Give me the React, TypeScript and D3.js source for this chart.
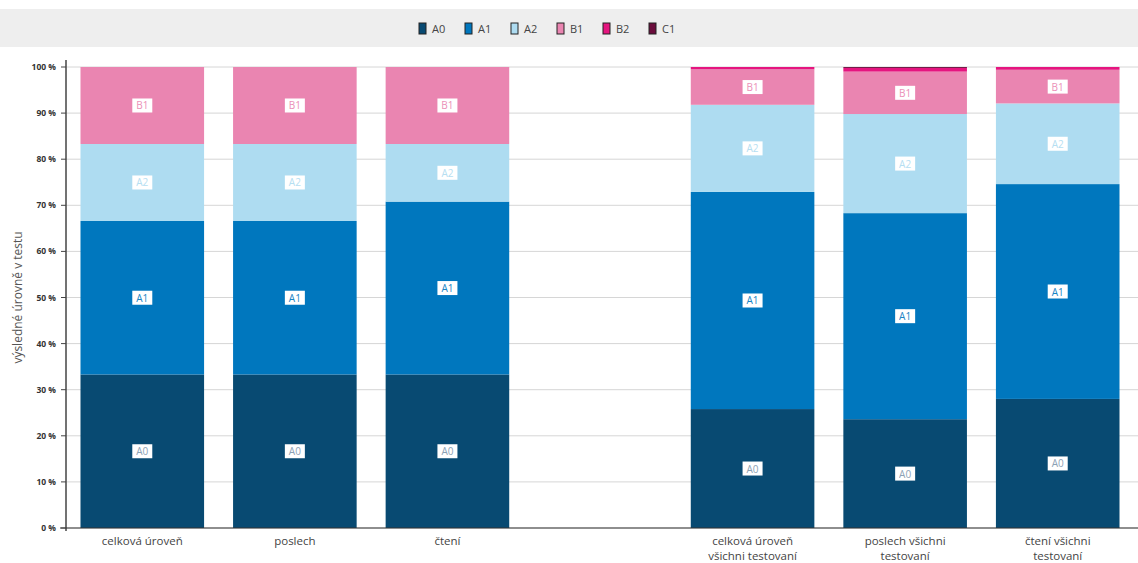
import { useEffect, useRef } from 'react';
import * as d3 from 'd3';

const categories = [
  'celková úroveň',
  'poslech',
  'čtení',
  '',
  'celková úroveň\nvšichni testovaní',
  'poslech všichni\ntestovaní',
  'čtení všichni\ntestovaní',
];
const levels = ['A0', 'A1', 'A2', 'B1', 'B2', 'C1'];
const levelColors = ['#084a72', '#0077be', '#aedcf1', '#ea85b1', '#e5157f', '#6b0d3c'];

// shares in % per category, in the order of levels
const A0 = [33.3, 33.3, 33.3, 0, 25.8, 23.6, 28.0];
const A1 = [33.3, 33.3, 37.5, 0, 47.1, 44.7, 46.6];
const A2 = [16.7, 16.7, 12.5, 0, 18.9, 21.5, 17.5];
const B1 = [16.7, 16.7, 16.7, 0, 7.7, 9.2, 7.3];
const B2 = [0, 0, 0, 0, 0.5, 0.8, 0.6];
const C1 = [0, 0, 0, 0, 0, 0.2, 0];

const yTicks = [0, 10, 20, 30, 40, 50, 60, 70, 80, 90, 100];
const labelled = ['A0', 'A1', 'A2', 'B1'];

export default function App() {
  const svgRef = useRef<SVGSVGElement>(null);

  useEffect(() => {
    if (!svgRef.current) return;
    const svg = d3.select(svgRef.current);
    svg.selectAll('*').remove();

    const width = 1138;
    const height = 563;
    const margin = { top: 67, right: 4, bottom: 35, left: 66 };
    const font = "'Open Sans', 'Noto Sans', sans-serif";

    // legend band
    svg
      .append('rect')
      .attr('x', 0)
      .attr('y', 9)
      .attr('width', width)
      .attr('height', 38)
      .attr('fill', '#eeeeee');

    const legendItemW = 46;
    const legendStart = 419;
    levels.forEach((lv, i) => {
      const g = svg.append('g').attr('transform', `translate(${legendStart + i * legendItemW}, 23)`);
      g.append('rect')
        .attr('width', 7)
        .attr('height', 11)
        .attr('fill', levelColors[i])
        .attr('stroke', '#222')
        .attr('stroke-width', 1);
      g.append('text')
        .attr('x', 13)
        .attr('y', 10)
        .style('font-family', font)
        .style('font-size', '11px')
        .style('fill', '#444')
        .text(lv);
    });

    const data = categories.map((c, i) => ({
      category: c,
      A0: A0[i],
      A1: A1[i],
      A2: A2[i],
      B1: B1[i],
      B2: B2[i],
      C1: C1[i],
    }));

    const x = d3
      .scaleBand()
      .domain(d3.range(categories.length).map(String))
      .range([margin.left, width - margin.right])
      .paddingInner(0.19)
      .paddingOuter(0.095);
    const y = d3.scaleLinear().domain([0, 100]).range([height - margin.bottom, margin.top]);

    // grid
    svg
      .append('g')
      .selectAll('line')
      .data(yTicks)
      .enter()
      .append('line')
      .attr('x1', margin.left)
      .attr('x2', width)
      .attr('y1', (d) => y(d))
      .attr('y2', (d) => y(d))
      .attr('stroke', '#d6d6d6')
      .attr('stroke-width', 1);

    const stack = d3.stack<any>().keys(levels);
    const series = stack(data);

    series.forEach((s, si) => {
      svg
        .append('g')
        .selectAll('rect')
        .data(s.map((d, ci) => ({ d, ci })).filter((e) => e.d[1] - e.d[0] > 0))
        .enter()
        .append('rect')
        .attr('x', (e) => x(String(e.ci))!)
        .attr('y', (e) => y(e.d[1]))
        .attr('width', x.bandwidth())
        .attr('height', (e) => y(e.d[0]) - y(e.d[1]))
        .attr('fill', levelColors[si]);
    });

    // segment labels
    series.forEach((s, si) => {
      if (!labelled.includes(levels[si])) return;
      s.forEach((d, ci) => {
        if (d[1] - d[0] <= 0) return;
        const cx = x(String(ci))! + x.bandwidth() / 2;
        const cy = y((d[0] + d[1]) / 2);
        svg
          .append('rect')
          .attr('x', cx - 10)
          .attr('y', cy - 7)
          .attr('width', 20)
          .attr('height', 14)
          .attr('fill', '#fff');
        svg
          .append('text')
          .attr('x', cx)
          .attr('y', cy + 4)
          .attr('text-anchor', 'middle')
          .style('font-family', font)
          .style('font-size', '10px')
          .style('fill', levelColors[si] === '#084a72' ? '#7f97ad' : levelColors[si])
          .style('opacity', 0.9)
          .text(levels[si]);
      });
    });

    // axes
    svg
      .append('line')
      .attr('x1', margin.left)
      .attr('x2', margin.left)
      .attr('y1', 60)
      .attr('y2', y(0) + 3)
      .attr('stroke', '#444')
      .attr('stroke-width', 1.5);
    svg
      .append('line')
      .attr('x1', margin.left - 6)
      .attr('x2', width)
      .attr('y1', y(0))
      .attr('y2', y(0))
      .attr('stroke', '#333')
      .attr('stroke-width', 1.2);

    yTicks.forEach((t) => {
      svg
        .append('line')
        .attr('x1', margin.left - 5)
        .attr('x2', margin.left)
        .attr('y1', y(t))
        .attr('y2', y(t))
        .attr('stroke', '#444');
      svg
        .append('text')
        .attr('x', 56)
        .attr('y', y(t) + 3)
        .attr('text-anchor', 'end')
        .style('font-family', font)
        .style('font-size', '8.5px')
        .style('font-weight', 'bold')
        .style('fill', '#333')
        .text(`${t} %`);
    });

    svg
      .append('text')
      .attr('transform', `translate(22, ${(y(0) + y(100)) / 2}) rotate(-90)`)
      .attr('text-anchor', 'middle')
      .style('font-family', font)
      .style('font-size', '12px')
      .style('fill', '#555')
      .text('výsledné úrovně v testu');

    categories.forEach((c, i) => {
      c.split('\n').forEach((ln, li) => {
        svg
          .append('text')
          .attr('x', x(String(i))! + x.bandwidth() / 2)
          .attr('y', y(0) + 17 + li * 15)
          .attr('text-anchor', 'middle')
          .style('font-family', font)
          .style('font-size', '11.5px')
          .style('fill', '#444')
          .text(ln);
      });
    });
  }, []);

  return (
    <>
      <style>{`body{margin:0;overflow:hidden}`}</style>
      <svg ref={svgRef} width={1138} height={563} style={{ display: 'block', background: '#fff' }} />
    </>
  );
}
